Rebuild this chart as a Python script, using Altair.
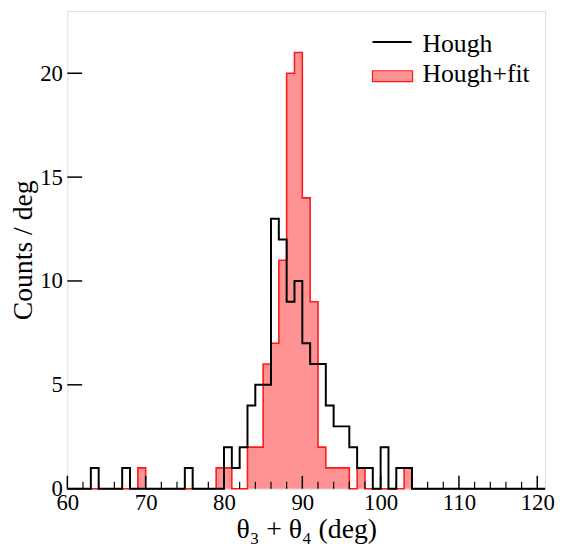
import altair as alt
import pandas as pd

# ---- data (bin width 1 deg, bins start at the listed edge) ----
hough_bins = [63, 67, 75, 80, 81, 82, 83, 84, 85, 86, 87, 88, 89, 90, 91, 92, 93, 94, 95, 96, 97, 98, 100, 102, 103]
hough_counts = [1, 1, 1, 2, 1, 2, 4, 5, 5, 13, 12, 9, 10, 7, 6, 6, 4, 3, 3, 2, 1, 1, 2, 1, 1]
fit_bins = [69, 79, 80, 83, 84, 85, 86, 87, 88, 89, 90, 91, 92, 93, 94, 95, 97, 103]
fit_counts = [1, 1, 1, 2, 2, 6, 7, 11, 20, 21, 14, 9, 2, 1, 1, 1, 1, 1]

x_low, x_high = 60, 121
y_max = 23
x_major = [60, 70, 80, 90, 100, 110, 120]
x_minor = [v for v in range(62, 121, 2) if v % 10 != 0]
y_major = [0, 5, 10, 15, 20]
legend_labels = ["Hough", "Hough+fit"]

W, H = 483, 483
FONT = "Liberation Serif"
RED_FILL = "#ff9393"
RED = "#ff1a1a"


def step_frame(bins, counts):
    lookup = dict(zip(bins, counts))
    xs = list(range(x_low, x_high + 1))
    ys = [lookup.get(x, 0) for x in range(x_low, x_high)]
    ys.append(ys[-1])
    return pd.DataFrame({"x": xs, "y": ys})


hough_df = step_frame(hough_bins, hough_counts)
fit_df = step_frame(fit_bins, fit_counts)

x_scale = alt.Scale(domain=[x_low, x_high], nice=False, zero=False)
y_scale = alt.Scale(domain=[0, y_max], nice=False, zero=False)

x_axis = alt.Axis(
    values=x_major, format="d", title="θ₃ + θ₄ (deg)", ticks=False, domain=False, grid=False,
    labelFont=FONT, labelFontSize=23, labelColor="black", labelPadding=3, labelFlush=False,
    titleFont=FONT, titleFontSize=28, titleFontWeight="normal", titleColor="black", titlePadding=1,
)
y_axis = alt.Axis(
    values=y_major, format="d", title="Counts / deg", ticks=False, domain=False, grid=False,
    labelFont=FONT, labelFontSize=23, labelColor="black", labelPadding=5, labelFlush=False,
    titleFont=FONT, titleFontSize=28, titleFontWeight="normal", titleColor="black", titlePadding=2,
)

X = alt.X("x:Q", scale=x_scale, axis=x_axis)
Y = alt.Y("y:Q", scale=y_scale, axis=y_axis)

fit_area = alt.Chart(fit_df).mark_area(interpolate="step-after", color=RED_FILL, opacity=1).encode(x=X, y=Y)
fit_line = alt.Chart(fit_df).mark_line(interpolate="step-after", color=RED, strokeWidth=1.6).encode(x=X, y=Y)
hough_line = alt.Chart(hough_df).mark_line(interpolate="step-after", color="black", strokeWidth=2).encode(x=X, y=Y)

xmaj_df = pd.DataFrame({"x": x_major})
xmin_df = pd.DataFrame({"x": x_minor})
ymaj_df = pd.DataFrame({"y": y_major})

xmaj = alt.Chart(xmaj_df).mark_rule(color="black", strokeWidth=1.5).encode(
    x=X, y=alt.value(H), y2=alt.value(H - 13))
xmin = alt.Chart(xmin_df).mark_rule(color="black", strokeWidth=1.2).encode(
    x=X, y=alt.value(H), y2=alt.value(H - 7))
ymaj = alt.Chart(ymaj_df).mark_rule(color="black", strokeWidth=1.5).encode(
    y=Y, x=alt.value(0), x2=alt.value(15))

# legend (no border, as in the reference)
leg_df = pd.DataFrame({"label": legend_labels})
leg_line = alt.Chart(leg_df.iloc[[0]]).mark_rule(color="black", strokeWidth=2).encode(
    x=alt.value(308.5), x2=alt.value(348), y=alt.value(31.5))
leg_box = alt.Chart(leg_df.iloc[[1]]).mark_rect(fill=RED_FILL, stroke=RED, strokeWidth=1.2).encode(
    x=alt.value(308.5), x2=alt.value(349), y=alt.value(60.5), y2=alt.value(71.5))
leg_text1 = alt.Chart(leg_df.iloc[[0]]).mark_text(
    font=FONT, fontSize=26, align="left", baseline="alphabetic", color="black").encode(
    text="label:N", x=alt.value(359), y=alt.value(41.5))
leg_text2 = alt.Chart(leg_df.iloc[[1]]).mark_text(
    font=FONT, fontSize=26, align="left", baseline="alphabetic", color="black").encode(
    text="label:N", x=alt.value(359), y=alt.value(72))

chart = alt.layer(
    fit_area, fit_line, hough_line, xmaj, xmin, ymaj, leg_line, leg_box, leg_text1, leg_text2
).properties(
    width=W, height=H,
    autosize=alt.AutoSizeParams(type="none"),
    padding={"left": 60, "top": 0, "right": 10, "bottom": 56},
).configure_view(
    stroke="black", strokeWidth=1.5, fill="white"
).configure(background="white")

chart.save("out.html", embed_options={"renderer": "svg", "actions": False})
